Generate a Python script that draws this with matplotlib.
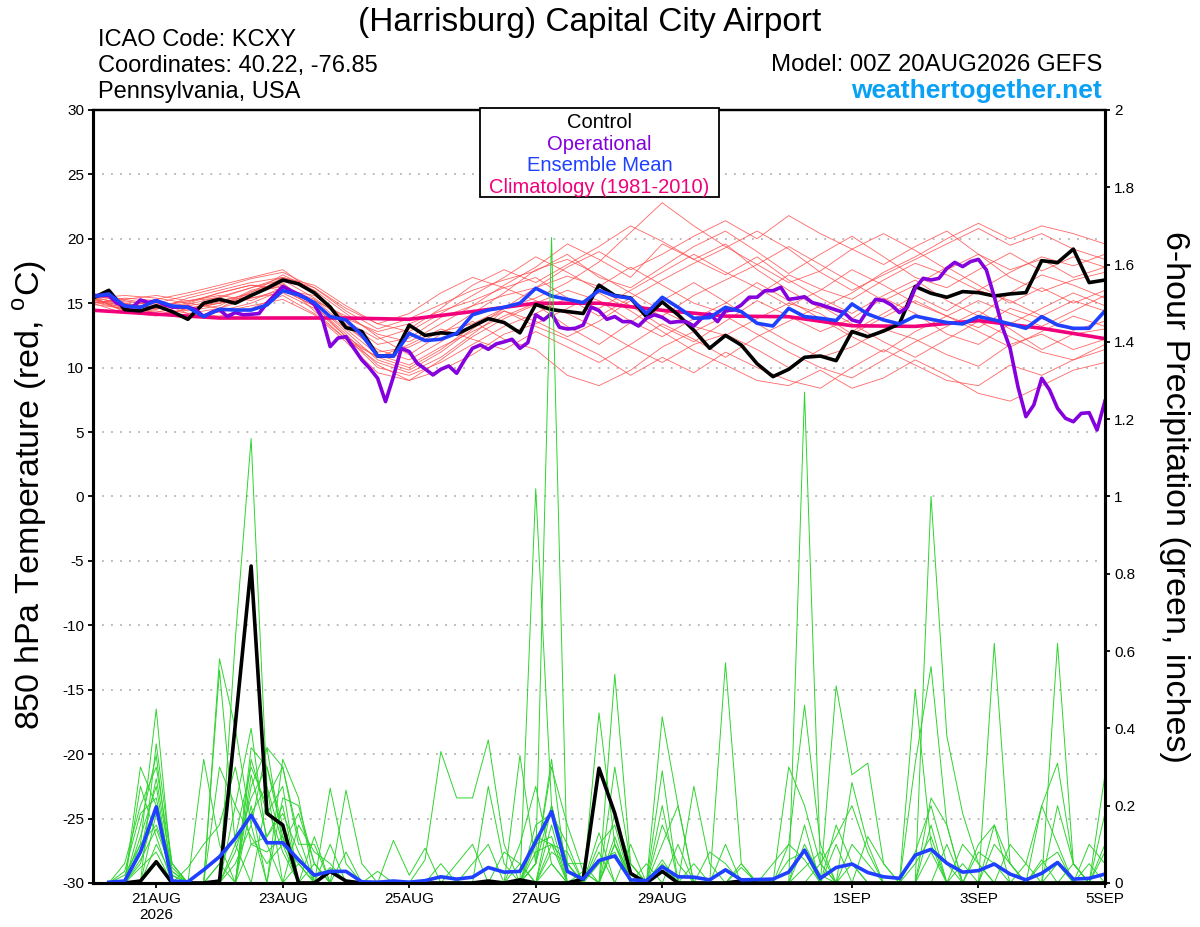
"""GEFS 850 hPa temperature / 6-hour precipitation plume for KCXY"""
import matplotlib

matplotlib.use("Agg")
import matplotlib.pyplot as plt
from matplotlib.patches import Rectangle

plt.rcParams["font.family"] = ["Liberation Sans", "DejaVu Sans"]
plt.rcParams["mathtext.fontset"] = "custom"
plt.rcParams["mathtext.rm"] = "Liberation Sans"
plt.rcParams["axes.unicode_minus"] = False

# 6-hourly temperatures (deg C), 20AUG 00Z .. 5SEP 00Z
control_temp = [
    15.4, 16.0, 14.5, 14.4, 14.8, 14.35, 13.75, 15.0, 15.3, 15.0,
    15.6, 16.15, 16.8, 16.5, 15.8, 14.7, 13.1, 12.8, 10.9, 10.9,
    13.3, 12.5, 12.7, 12.6, 13.2, 13.8, 13.5, 12.7, 14.9, 14.5,
    14.35, 14.2, 16.4, 15.6, 15.4, 13.95, 15.1, 14.1, 12.9, 11.5,
    12.5, 11.75, 10.3, 9.3, 9.87, 10.8, 10.9, 10.54, 12.8, 12.4,
    12.84, 13.4, 16.3, 15.77, 15.46, 15.9, 15.82, 15.56, 15.72, 15.82,
    18.3, 18.15, 19.2, 16.6, 16.8,
]
mean_temp = [
    15.5, 15.72, 14.79, 14.68, 15.2, 14.79, 14.68, 13.96, 14.53, 14.47,
    14.47, 14.86, 15.97, 15.64, 15.04, 13.96, 13.7, 12.53, 10.9, 10.9,
    12.66, 12.1, 12.2, 12.66, 14.1, 14.47, 14.68, 15.0, 16.16, 15.56,
    15.3, 15.04, 16.0, 15.56, 15.38, 14.2, 15.46, 14.68, 13.83, 13.88,
    14.68, 14.35, 13.44, 13.23, 14.6, 13.96, 13.83, 13.65, 14.94, 14.16,
    13.7, 13.39, 14.0, 13.75, 13.5, 13.39, 13.96, 13.7, 13.39, 13.05,
    13.96, 13.31, 13.05, 13.05, 14.4,
]
# operational run is 3-hourly
operational_temp = [
    15.6, 15.6, 15.6, 15.0, 14.8, 14.7, 15.25, 15.05, 15.2, 14.9,
    14.7, 14.7, 14.7, 14.5, 13.96, 14.3, 14.5, 13.96, 14.27, 14.1,
    14.14, 14.2, 15.0, 15.64, 16.3, 15.97, 15.7, 15.38, 14.9, 13.83,
    11.63, 12.3, 12.4, 11.5, 10.6, 9.95, 9.17, 7.36, 9.3, 11.5,
    11.24, 10.34, 9.9, 9.43, 9.87, 10.13, 9.56, 10.6, 11.5, 11.76,
    11.42, 11.84, 12.0, 12.2, 11.5, 11.94, 14.1, 13.7, 14.2, 13.13,
    13.0, 13.05, 13.3, 14.7, 14.42, 13.75, 13.96, 13.57, 13.57, 13.23,
    13.83, 14.1, 13.9, 13.5, 13.57, 13.57, 13.23, 13.83, 14.16, 13.57,
    14.42, 14.47, 14.86, 15.46, 15.46, 15.97, 15.97, 16.23, 15.3, 15.38,
    15.5, 15.04, 14.89, 14.68, 14.47, 14.27, 13.7, 13.52, 14.47, 15.3,
    15.2, 14.86, 14.27, 14.68, 16.16, 16.93, 16.8, 16.93, 17.7, 18.17,
    17.84, 18.23, 18.4, 17.58, 15.5, 13.2, 11.5, 8.5, 6.2, 7.1,
    9.17, 8.26, 6.84, 6.07, 5.8, 6.45, 6.5, 5.16, 7.4,
]
# daily climatology (1981-2010)
climatology_temp = [
    14.45, 14.15, 13.85, 13.85, 13.85, 13.75, 14.35, 15.0, 15.0,
    14.45, 14.0, 13.95, 13.25, 13.2, 13.65, 13.05, 12.25,
]

# ensemble members, 12-hourly
temp_members = [
    [15.2, 15.0, 14.6, 14.9, 15.5, 16.2, 16.8, 15.4, 13.6, 11.8, 12.3, 13.9, 14.8, 15.6, 16.2, 17.1, 16.3,
     17.8, 16.4, 15.0, 14.2, 15.6, 17.2, 16.1, 15.3, 16.8, 18.1, 17.2, 16.0, 17.4, 18.6, 17.9, 18.8],
    [15.5, 14.3, 14.0, 14.6, 15.1, 15.8, 17.2, 16.0, 14.2, 12.4, 11.0, 12.6, 14.2, 15.8, 17.6, 18.4, 17.2,
     15.8, 14.4, 13.2, 12.5, 13.8, 15.0, 14.2, 12.6, 13.9, 15.2, 14.0, 13.1, 14.6, 13.8, 12.9, 13.6],
    [15.0, 15.4, 15.2, 14.2, 14.6, 15.9, 16.5, 15.0, 12.8, 10.6, 9.8, 11.2, 13.0, 14.6, 15.4, 16.6, 18.2,
     20.5, 22.8, 21.0, 19.4, 18.0, 16.6, 17.5, 19.2, 20.4, 19.1, 17.6, 18.8, 17.0, 15.9, 16.8, 17.4],
    [15.3, 14.8, 14.2, 13.8, 14.4, 15.0, 16.0, 14.8, 12.6, 10.2, 9.0, 10.6, 12.4, 13.8, 14.9, 13.2, 11.8,
     13.5, 15.2, 16.6, 15.1, 13.4, 12.0, 10.8, 11.6, 13.0, 12.2, 11.0, 10.1, 11.8, 12.6, 11.4, 12.2],
    [15.6, 15.1, 15.0, 15.6, 16.2, 16.9, 17.4, 16.2, 14.4, 13.0, 13.8, 14.9, 16.0, 16.8, 17.5, 18.8, 17.0,
     16.2, 17.8, 19.4, 20.6, 19.0, 17.3, 18.8, 20.2, 18.6, 17.0, 16.2, 17.6, 18.9, 17.5, 18.6, 17.8],
    [15.1, 14.5, 14.4, 14.0, 14.3, 14.8, 15.3, 14.1, 12.0, 9.6, 9.0, 9.8, 11.0, 12.6, 13.4, 14.6, 15.8,
     14.4, 12.8, 11.3, 10.2, 9.0, 8.6, 9.8, 8.4, 9.2, 10.6, 9.4, 8.0, 7.4, 8.6, 9.8, 10.4],
    [15.4, 15.6, 15.4, 15.0, 15.8, 16.4, 16.0, 15.6, 13.8, 12.8, 13.4, 14.4, 15.2, 16.2, 17.0, 15.4, 14.0,
     15.4, 16.8, 18.1, 19.3, 20.6, 19.2, 17.4, 16.0, 17.2, 18.4, 19.6, 20.8, 19.5, 20.4, 19.2, 18.4],
    [14.9, 14.6, 14.8, 15.2, 15.6, 15.2, 16.2, 15.3, 13.2, 11.4, 10.6, 12.0, 13.6, 12.2, 11.4, 9.4, 8.6,
     9.8, 11.6, 12.8, 14.0, 12.6, 11.2, 10.0, 9.2, 10.6, 12.0, 13.2, 14.4, 13.0, 11.4, 12.6, 13.0],
    [15.7, 15.3, 14.9, 14.6, 15.0, 15.6, 17.0, 16.4, 14.8, 13.4, 12.8, 14.2, 15.6, 17.0, 18.6, 17.4, 16.0,
     14.8, 13.2, 12.0, 13.6, 15.2, 14.0, 12.8, 13.8, 15.4, 14.2, 12.6, 11.8, 13.4, 14.6, 15.8, 14.8],
    [15.0, 14.2, 14.6, 15.0, 14.6, 15.4, 15.8, 14.6, 12.4, 10.0, 9.4, 10.4, 11.8, 13.2, 14.2, 15.4, 14.6,
     16.0, 17.4, 18.8, 17.4, 16.2, 14.8, 16.0, 17.6, 16.4, 15.0, 14.0, 15.2, 14.2, 13.2, 14.4, 15.6],
    [15.4, 15.0, 14.5, 15.4, 16.0, 16.6, 17.0, 15.8, 13.4, 11.2, 11.6, 12.8, 13.4, 14.6, 16.2, 17.8, 19.0,
     17.6, 18.8, 20.2, 21.4, 20.0, 21.8, 20.4, 19.2, 18.0, 19.4, 20.6, 18.8, 17.6, 18.4, 17.0, 17.8],
    [15.2, 14.8, 15.1, 14.4, 14.8, 16.0, 16.6, 14.4, 12.2, 10.8, 11.8, 13.0, 12.2, 11.4, 12.8, 11.6, 10.4,
     11.8, 13.4, 12.2, 10.8, 12.4, 13.6, 14.8, 13.4, 12.0, 10.8, 12.2, 13.6, 12.4, 11.2, 10.6, 11.8],
    [15.6, 15.2, 14.8, 15.1, 15.8, 16.4, 16.2, 15.2, 14.0, 12.6, 12.0, 13.4, 14.8, 16.4, 17.8, 19.6, 18.4,
     17.0, 19.6, 18.4, 17.2, 18.6, 16.8, 15.4, 14.2, 15.6, 16.8, 15.2, 14.0, 15.8, 17.2, 16.4, 15.4],
    [15.3, 14.6, 14.3, 14.8, 15.2, 15.7, 16.4, 15.0, 13.0, 11.0, 10.2, 11.6, 12.8, 14.0, 15.0, 16.0, 15.2,
     13.6, 12.4, 13.8, 15.0, 16.6, 15.2, 13.8, 12.4, 11.2, 12.8, 14.0, 12.8, 11.6, 12.8, 14.0, 13.2],
    [15.0, 15.3, 15.6, 15.2, 15.4, 16.2, 17.0, 16.2, 14.6, 13.4, 14.2, 15.8, 17.0, 16.2, 15.2, 14.2, 13.0,
     11.6, 10.4, 11.8, 12.6, 11.4, 10.0, 11.4, 12.8, 14.2, 15.6, 14.4, 16.0, 15.2, 14.0, 15.2, 14.4],
    [15.5, 14.9, 14.7, 14.2, 14.0, 14.6, 15.6, 14.2, 12.2, 10.4, 9.6, 10.8, 12.6, 14.4, 13.6, 12.4, 13.6,
     15.2, 14.0, 15.6, 16.8, 18.0, 19.4, 18.0, 16.6, 15.2, 16.4, 17.8, 16.4, 15.0, 16.2, 15.0, 16.0],
    [15.1, 14.7, 15.3, 15.8, 16.4, 17.0, 17.6, 15.8, 13.6, 12.2, 13.0, 14.6, 16.4, 17.6, 16.6, 18.0, 19.4,
     21.0, 19.8, 18.4, 19.6, 17.6, 16.0, 14.6, 15.8, 17.4, 18.6, 20.0, 21.2, 20.0, 21.0, 20.4, 19.6],
    [15.4, 14.4, 14.1, 14.5, 15.0, 15.4, 16.0, 14.8, 12.4, 10.8, 10.0, 11.4, 13.2, 14.4, 13.2, 12.2, 11.0,
     9.4, 10.8, 9.6, 11.2, 10.0, 9.0, 8.4, 10.0, 11.4, 10.2, 9.0, 8.6, 10.2, 9.4, 10.6, 11.4],
]

# 6-hour precipitation (inches), 20AUG 06Z .. 5SEP 00Z
control_precip = [
    0, 0, .005, .055, 0, 0, 0, .005, .41, .82, .18, .15, 0, 0, .03, .005,
    0, 0, 0, 0, 0, 0, 0, 0, .005, 0, .008, 0, 0, 0, .01, .297,
    .18, .025, 0, .03, 0, 0, 0, 0, .005, 0, 0, 0, 0, 0, 0, 0,
    0, 0, 0, 0, 0, 0, 0, 0, 0, 0, 0, 0, 0, 0, 0, 0,
]
mean_precip = [
    .002, .005, .08, .197, .005, .003, .034, .068, .116, .175, .104, .104, .06, .02, .03, .03,
    .003, .002, .005, .002, .006, .016, .01, .015, .04, .028, .03, .107, .185, .03, .01, .058,
    .07, .008, .006, .042, .016, .015, .008, .034, .008, .009, .01, .028, .085, .012, .04, .049,
    .027, .016, .012, .072, .087, .051, .028, .032, .049, .023, .008, .025, .053, .01, .012, .023,
]
precip_members = [
    [0, 0, .10, .45, .02, 0, 0, .05, .12, .30, .20, .08, 0, 0, 0, 0,
     0, 0, 0, 0, 0, 0, 0, 0, 0, 0, 0, .05, 1.67, .03, 0, 0,
     .10, 0, 0, .05, 0, 0, 0, 0, 0, 0, 0, 0, .10, .02, 0, 0,
     0, 0, 0, 0, .15, 0, 0, 0, 0, 0, 0, 0, .05, 0, 0, 0],
    [0, 0, .30, .20, 0, 0, .32, .10, 0, .20, 0, .32, .22, 0, 0, 0,
     0, 0, 0, 0, .06, .34, .22, .22, .37, .10, 0, 0, 0, 0, 0, .44,
     .10, 0, 0, 0, 0, 0, 0, .10, 0, 0, 0, 0, 1.27, .05, 0, 0,
     0, 0, 0, 0, 0, 0, 0, 0, .15, 0, 0, .20, .31, .05, 0, 0],
    [0, 0, 0, .36, .05, 0, 0, .58, .40, .15, .35, .10, 0, 0, 0, 0,
     0, 0, 0, 0, 0, 0, 0, 0, 0, 0, 0, 1.02, .20, 0, 0, 0,
     0, .10, 0, .43, .20, 0, 0, 0, 0, 0, 0, 0, 0, 0, .10, 0,
     0, 0, 0, 0, .22, .15, 0, 0, 0, 0, 0, 0, 0, 0, 0, .28],
    [0, 0, .15, .33, 0, 0, 0, 0, .63, 1.15, .25, 0, .05, 0, .245, .05,
     0, 0, 0, 0, 0, 0, 0, 0, 0, 0, .33, .05, .32, 0, 0, 0,
     .54, .05, 0, 0, 0, 0, 0, .57, .05, 0, 0, 0, 0, 0, 0, 0,
     0, 0, 0, .50, .10, 0, 0, 0, .62, .05, 0, 0, 0, 0, 0, 0],
    [0, .05, .20, .30, .05, 0, 0, 0, 0, .32, .18, .25, 0, .12, 0, 0,
     0, 0, 0, 0, 0, 0, 0, 0, 0, 0, 0, 0, .10, .05, 0, .13,
     0, 0, 0, 0, 0, .25, .05, 0, 0, 0, 0, .10, .46, .10, 0, 0,
     0, 0, 0, 0, 1.00, .38, .18, .05, 0, 0, 0, 0, 0, 0, .05, 0],
    [0, 0, .08, .27, .03, 0, 0, .55, .10, 0, .22, .30, .12, 0, 0, 0,
     0, 0, .11, .02, .09, 0, 0, 0, .25, .05, 0, 0, .15, 0, .03, 0,
     .30, .05, 0, .29, 0, 0, 0, 0, 0, 0, 0, 0, 0, 0, .51, .28,
     .31, .05, 0, 0, 0, 0, 0, 0, 0, 0, 0, 0, .62, .05, 0, .10],
    [0, 0, .12, .25, 0, 0, 0, 0, 0, .28, .12, .18, .08, 0, 0, .24,
     .05, 0, 0, 0, 0, 0, 0, 0, 0, 0, 0, .10, .12, 0, 0, 0,
     0, 0, 0, .10, .20, 0, 0, 0, 0, 0, 0, 0, 0, 0, 0, .26,
     .10, 0, 0, .31, .56, .15, 0, 0, 0, 0, .05, .20, .10, 0, 0, 0],
    [0, .03, .18, .22, .02, 0, 0, 0, .08, .22, .30, .12, 0, .05, 0, 0,
     0, 0, 0, 0, 0, 0, .05, .10, 0, 0, .10, .25, .05, 0, 0, 0,
     0, 0, 0, .06, 0, 0, 0, 0, 0, 0, .05, .10, .06, 0, 0, 0,
     0, 0, 0, 0, 0, 0, 0, .10, .15, .05, 0, 0, 0, 0, 0, .18],
    [0, 0, .05, .20, 0, .04, .10, .15, .30, .10, .12, .20, 0, 0, .10, 0,
     0, 0, 0, 0, 0, 0, 0, 0, 0, .08, .05, 0, .08, .05, 0, .08,
     0, 0, 0, 0, 0, .05, 0, 0, 0, 0, 0, 0, 0, .05, .12, .20,
     .08, 0, 0, 0, 0, 0, .10, .05, 0, 0, 0, 0, 0, .05, 0, 0],
    [0, 0, 0, .18, .05, 0, 0, 0, 0, .25, .35, .30, .10, .10, 0, .08,
     0, 0, 0, 0, 0, 0, 0, 0, 0, 0, 0, 0, .20, .05, .05, 0,
     .18, .05, 0, 0, 0, 0, 0, 0, 0, 0, 0, .06, .08, 0, 0, 0,
     0, 0, 0, .05, .12, 0, 0, 0, 0, 0, 0, .05, .08, 0, 0, 0],
    [0, .02, .10, .15, .04, 0, 0, 0, .05, .15, 0, .22, .20, .05, 0, 0,
     0, 0, 0, 0, 0, .05, 0, 0, 0, 0, 0, .15, .18, .10, 0, 0,
     0, 0, 0, .15, .05, 0, 0, 0, .05, 0, 0, 0, 0, 0, 0, .10,
     .05, 0, 0, 0, 0, 0, 0, 0, .10, .05, 0, 0, 0, 0, 0, 0],
    [0, 0, .25, .12, 0, 0, 0, 0, .20, .40, .10, 0, .15, .08, .05, 0,
     0, 0, 0, 0, 0, 0, 0, 0, 0, 0, 0, .08, .10, 0, 0, 0,
     .12, 0, .05, 0, .10, 0, 0, 0, 0, 0, 0, 0, .04, .08, 0, 0,
     0, 0, 0, .08, .20, .05, 0, 0, 0, 0, 0, 0, 0, 0, .10, .05],
    [0, 0, 0, .10, .02, 0, 0, .05, 0, .35, .30, .15, 0, 0, 0, 0,
     0, 0, 0, 0, 0, 0, 0, 0, 0, 0, 0, .12, .10, .08, 0, .05,
     .08, 0, 0, .04, 0, 0, 0, 0, 0, 0, 0, .30, .20, .05, 0, 0,
     0, 0, 0, 0, 0, 0, .05, 0, 0, .10, .05, 0, 0, 0, 0, 0],
    [0, 0, .04, .08, 0, 0, 0, .30, .20, .12, .05, .10, .05, 0, 0, 0,
     0, .03, 0, 0, 0, 0, 0, 0, 0, 0, 0, .05, .30, .15, .03, 0,
     0, 0, 0, 0, 0, 0, .08, .05, 0, 0, 0, 0, 0, 0, .15, .05,
     0, 0, 0, 0, 0, .10, 0, 0, 0, 0, 0, 0, .20, .05, 0, 0],
    [0, 0, 0, .05, 0, 0, 0, 0, .10, .18, .25, .10, .18, .05, 0, 0,
     0, 0, 0, 0, 0, 0, 0, .05, .10, 0, .05, 0, .05, 0, 0, 0,
     .10, .02, 0, .20, 0, 0, 0, 0, 0, 0, 0, 0, .15, 0, 0, .05,
     0, 0, 0, 0, 0, 0, 0, .08, .05, 0, 0, 0, 0, 0, 0, 0],
    [0, 0, .06, .14, .03, 0, 0, 0, 0, .10, .08, .12, 0, 0, .04, 0,
     0, 0, 0, 0, 0, 0, 0, 0, 0, 0, 0, .05, .20, .05, 0, .10,
     .15, 0, 0, 0, 0, 0, 0, 0, .04, 0, 0, 0, 0, 0, 0, 0,
     .12, .05, 0, 0, .08, 0, 0, 0, 0, 0, 0, .06, 0, 0, 0, .08],
]

date_ticks = [24, 72, 120, 168, 216, 288, 336, 384]
date_labels = ["21AUG\n2026", "23AUG", "25AUG", "27AUG", "29AUG", "1SEP", "3SEP", "5SEP"]

hours_6h = [6 * i for i in range(len(control_temp))]
hours_3h = [3 * j for j in range(len(operational_temp))]
hours_12h = [12 * k for k in range(len(temp_members[0]))]
hours_clim = [24 * d for d in range(len(climatology_temp))]
hours_precip = [6 * (i + 1) for i in range(len(control_precip))]

fig = plt.figure(figsize=(12, 9.27), dpi=100)
ax = fig.add_axes([0.0775, 0.0475, 0.8433, 0.8339])
ax2 = ax.twinx()

# temperature side
for member in temp_members:
    ax.plot(hours_12h, member, color="#ff4a4a", lw=0.6, alpha=0.85)
ax.plot(hours_clim, climatology_temp, color="#f2007c", lw=2.6)
ax.plot(hours_6h, control_temp, color="black", lw=2.6)
ax.plot(hours_3h, operational_temp, color="#8400dc", lw=2.6)
ax.plot(hours_6h, mean_temp, color="#1f40ff", lw=2.6)

# precipitation side
for member in precip_members:
    ax2.plot(hours_precip, member, color="#2fd42f", lw=0.7)
ax2.plot(hours_precip, control_precip, color="black", lw=2.6)
ax2.plot(hours_precip, mean_precip, color="#1f40ff", lw=2.6)

ax.set_xlim(0, 384)
ax.set_ylim(-30, 30)
ax2.set_ylim(0, 2)
ax.set_yticks(range(-30, 31, 5))
ax2.set_yticks([v / 10 for v in range(0, 21, 2)])
ax2.set_yticklabels([f"{v / 10:g}" for v in range(0, 21, 2)])
ax.set_xticks(date_ticks)
ax.set_xticklabels(date_labels)
ax.yaxis.grid(True, linestyle=(0, (1, 4)), color="#b4b4b4", lw=1.3)

for a in (ax, ax2):
    a.tick_params(direction="out", length=3.5, width=1.3, labelsize=11, pad=3)
    for side in ("left", "right", "bottom"):
        a.spines[side].set_linewidth(2.2)
    a.spines["top"].set_linewidth(1.6)

# header
fig.text(0.4917, 0.976, "(Harrisburg) Capital City Airport", ha="center", va="center", size=24)
fig.text(0.0817, 0.9569, "ICAO Code: KCXY", ha="left", va="center", size=17)
fig.text(0.0817, 0.9288, "Coordinates: 40.22, -76.85", ha="left", va="center", size=17)
fig.text(0.0817, 0.9008, "Pennsylvania, USA", ha="left", va="center", size=17)
fig.text(0.9183, 0.930, "Model: 00Z 20AUG2026 GEFS", ha="right", va="center", size=17.3)
fig.text(0.9183, 0.902, "weathertogether.net", ha="right", va="center", size=19,
         weight="bold", color="#0aa0f5")

# axis titles
fig.text(0.025, 0.466, "850 hPa Temperature (red, $^\\mathrm{o}$C)", rotation=90,
         ha="center", va="center", size=24.5)
fig.text(0.979, 0.464, "6-hour Precipitation (green, inches)", rotation=270,
         ha="center", va="center", size=24.5)

# legend box
fig.add_artist(Rectangle((0.4, 0.7875), 0.199, 0.096, transform=fig.transFigure,
                         facecolor="white", edgecolor="black", lw=1.3, zorder=5))
legend_items = [("Control", "black"), ("Operational", "#8400dc"),
                ("Ensemble Mean", "#1f40ff"), ("Climatology (1981-2010)", "#f2007c")]
for n, (label, color) in enumerate(legend_items):
    fig.text(0.4995, 0.8675 - n * 0.0231, label, ha="center", va="center",
             size=14.5, color=color, zorder=6)

fig.savefig("out.png", dpi=100)
